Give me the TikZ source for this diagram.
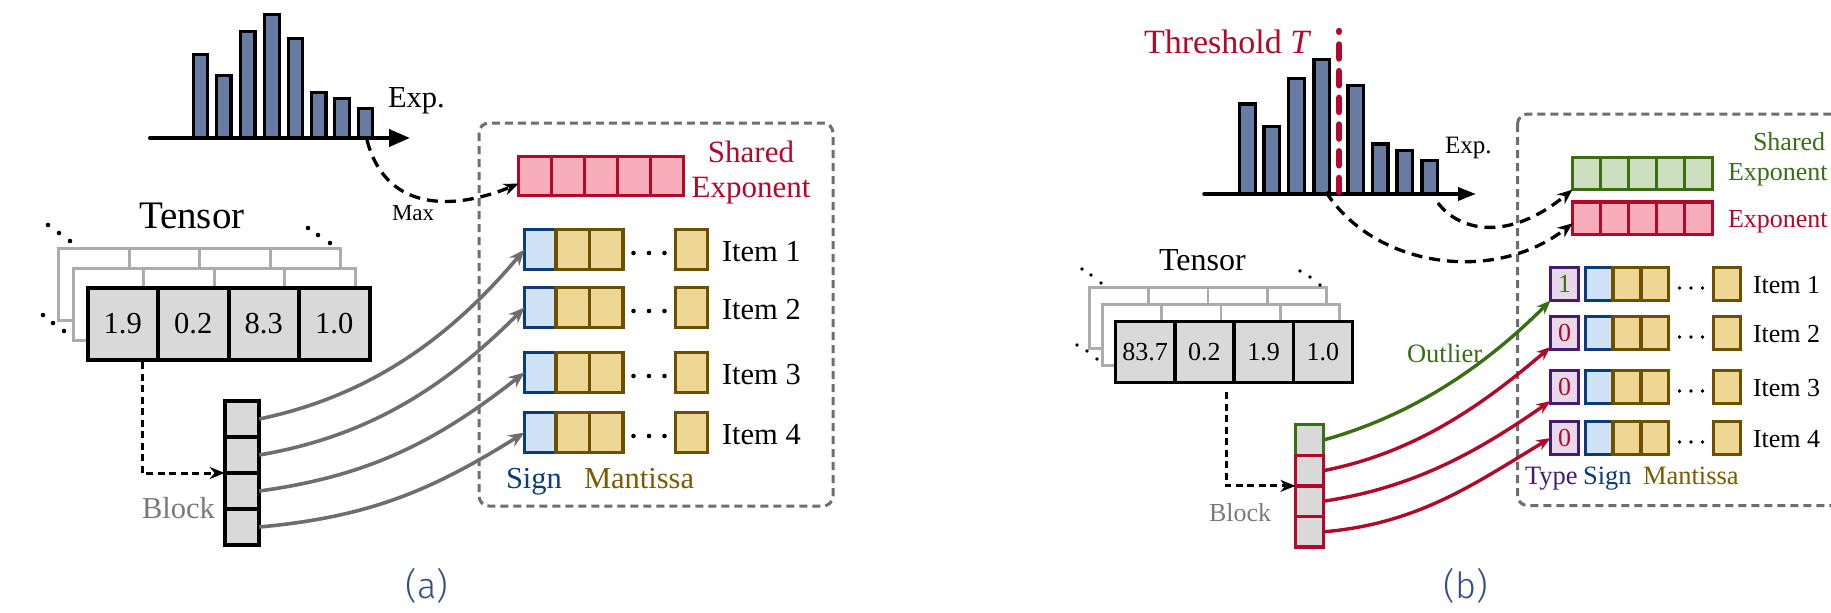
\documentclass[tikz,border=0pt]{standalone}
\usepackage{fontspec}
\setmainfont{Liberation Serif}
\newfontfamily\labfont{Fira Sans Light}
\usetikzlibrary{arrows.meta}
\definecolor{crim}{RGB}{178,8,42}
\definecolor{pinkf}{RGB}{248,174,186}
\definecolor{blues}{RGB}{10,60,125}
\definecolor{bluef}{RGB}{207,226,246}
\definecolor{golds}{RGB}{108,80,0}
\definecolor{goldf}{RGB}{238,214,148}
\definecolor{goldt}{RGB}{122,92,0}
\definecolor{barf}{RGB}{104,123,162}
\definecolor{tgray}{RGB}{217,217,217}
\definecolor{lgray}{RGB}{172,172,172}
\definecolor{greens}{RGB}{56,110,20}
\definecolor{greenf}{RGB}{205,223,192}
\definecolor{purps}{RGB}{72,26,110}
\definecolor{purpf}{RGB}{231,216,234}
\definecolor{dgray}{RGB}{110,110,110}
\definecolor{labblue}{RGB}{52,76,140}
\definecolor{blockt}{RGB}{122,122,122}
\begin{document}
\begin{tikzpicture}[x=1pt,y=-1pt,
  cell/.style={rectangle, inner sep=0pt, outer sep=0pt, anchor=north west},
  txt/.style={inner sep=0pt, outer sep=0pt},
  fA/.style={font=\fontsize{30.5}{36}\selectfont},
  fB/.style={font=\fontsize{26}{30}\selectfont},
  barst/.style={draw=black, fill=barf, line width=3.3pt},
  axisA/.style={draw=black, line width=4pt, line cap=round, -{Triangle[length=21pt,width=17pt]}},
  axisB/.style={draw=black, line width=3.5pt, line cap=round, -{Triangle[length=18pt,width=13pt]}},
  boxst/.style={draw=dgray, line width=3pt, dash pattern=on 8pt off 5pt, rounded corners=10pt},
  tcellA/.style={cell, draw=black, fill=tgray, line width=4pt, minimum width=70.5pt, minimum height=72pt, fA},
  bcellA/.style={cell, draw=lgray, fill=white, line width=3pt, minimum width=70.5pt, minimum height=72pt},
  tcellB/.style={cell, draw=black, fill=tgray, line width=3.5pt, minimum width=59.25pt, minimum height=61pt, fB},
  bcellB/.style={cell, draw=lgray, fill=white, line width=2.8pt, minimum width=59.25pt, minimum height=61pt},
  blkA/.style={cell, draw=black, fill=tgray, line width=4pt, minimum width=34.6pt, minimum height=36pt},
  blkB/.style={cell, fill=tgray, line width=3.3pt, minimum width=28.2pt, minimum height=30.6pt},
  expA/.style={cell, draw=crim, fill=pinkf, line width=3.8pt, minimum width=33pt, minimum height=39pt},
  expRB/.style={cell, draw=crim, fill=pinkf, line width=3.3pt, minimum width=28pt, minimum height=32.2pt},
  expGB/.style={cell, draw=greens, fill=greenf, line width=3.3pt, minimum width=28pt, minimum height=32.2pt},
  signA/.style={cell, draw=blues, fill=bluef, line width=3.8pt, minimum width=31.5pt, minimum height=40pt},
  manA/.style={cell, draw=golds, fill=goldf, line width=3.8pt, minimum width=33.5pt, minimum height=40pt},
  typeB/.style={cell, draw=purps, fill=purpf, line width=3.3pt, minimum width=28pt, minimum height=33pt, fB},
  signB/.style={cell, draw=blues, fill=bluef, line width=3.3pt, minimum width=27.5pt, minimum height=33pt},
  manB/.style={cell, draw=golds, fill=goldf, line width=3.3pt, minimum width=28pt, minimum height=33pt},
  grayarr/.style={draw=dgray, line width=3.6pt, -{Stealth[length=16pt,width=13pt]}},
  garr/.style={draw=greens, line width=3.4pt, -{Stealth[length=14pt,width=11pt]}},
  rarr/.style={draw=crim, line width=3.4pt, -{Stealth[length=14pt,width=11pt]}},
  dashcurve/.style={draw=black, line width=3.3pt, dash pattern=on 11pt off 7pt, -{Stealth[length=15pt,width=12pt]}},
  dasharr/.style={draw=black, line width=3pt, dash pattern=on 7pt off 4.5pt, -{Stealth[length=15pt,width=12pt]}},
  thrline/.style={draw=crim, line width=6.5pt, line cap=round, dash pattern=on 14pt off 12.7pt},
  labst/.style={txt, text=labblue, font=\labfont\fontsize{36}{40}\selectfont}
]
\useasboundingbox (0,0) rectangle (1831,613);
\clip (0,0) rectangle (1831,613);

% ================= (a) =================
\foreach \x/\t in {193.2/54.5, 216.5/75.5, 240.5/31.5, 264.8/14.5, 288.2/38.5, 311.5/92.5, 334.8/98.5, 358.2/108.5}
  \draw[barst] (\x,138) rectangle ({\x+14.5},\t);
\coordinate (axA0) at (150,138);
\coordinate (axA1) at (410,138);
\draw[axisA] (axA0) -- (axA1);
\node[txt, fA, anchor=base west] (expLA) at (388,107) {Exp.};

\draw[boxst] (479,123) rectangle (833,506);

\foreach \i in {0,...,4} \node[expA] (seA\i) at ({518.5+33*\i},156.5) {};
\node[txt, text=crim, font=\fontsize{31}{36}\selectfont, anchor=base] (shA1) at (751,162) {Shared};
\node[txt, text=crim, font=\fontsize{31}{36}\selectfont, anchor=base] (shA2) at (751,197) {Exponent};

\foreach \i/\t in {1/229.5, 2/287.5, 3/352.5, 4/412.5} {
  \node[signA] (sA\i) at (524.5,\t) {};
  \node[manA] (mAa\i) at (556,\t) {};
  \node[manA] (mAb\i) at (589.5,\t) {};
  \node[manA, minimum width=32pt] (mAc\i) at (675.5,\t) {};
  \fill (633.5,{\t+23.5}) circle (2.3pt) (649,{\t+23.5}) circle (2.3pt) (664.5,{\t+23.5}) circle (2.3pt);
  \node[txt, fA, anchor=base west] (itA\i) at (722,{\t+31.5}) {Item \i};
}
\node[txt, fA, text=blues, anchor=base west] (signLA) at (506,488) {Sign};
\node[txt, fA, text=goldt, anchor=base west] (mantLA) at (584,488) {Mantissa};

% tensor
\foreach \L/\dx/\dy in {3/-29/-40, 2/-14.5/-20}
  \foreach \j in {0,...,3}
    \node[bcellA] (tA\L\j) at ({87.5+70.5*\j+\dx},{288+\dy}) {};
\foreach \j/\v in {0/1.9, 1/0.2, 2/8.3, 3/1.0}
  \node[tcellA] (tA1\j) at ({87.5+70.5*\j},288) {\v};
\node[txt, font=\fontsize{39}{44}\selectfont, anchor=base west] (tenA) at (139,228) {Tensor};
\foreach \p in {(48,225),(59,233),(70,241),(308,228),(318,235),(330,243),(43,315),(53,323),(64,331)}
  \fill \p circle (2.3pt);

% block
\foreach \j in {1,...,4} \node[blkA] (bA\j) at (224.7,{401+36*(\j-1)}) {};
\node[txt, fA, text=blockt, anchor=base west] (blockLA) at (142,518) {Block};
\coordinate (tapA) at (142,362);
\draw[dasharr] (tapA) |- (bA2.south west);

\draw[grayarr] (bA1.east) .. controls +(110,-23) and +(-75,89) .. (sA1.west);
\draw[grayarr] (bA2.east) .. controls +(110,-19) and +(-80,80) .. (sA2.west);
\draw[grayarr] (bA3.east) .. controls +(110,-15) and +(-88,69) .. (sA3.west);
\draw[grayarr] (bA4.east) .. controls +(110,-10) and +(-93,58) .. (sA4.west);

\coordinate (maxA0) at (367,140);
\draw[dashcurve] (maxA0) .. controls +(18,70) and +(-68,28) .. (seA0.205);
\node[txt, font=\fontsize{23}{27}\selectfont, anchor=base west] (maxL) at (392,220) {Max};

\node[labst] (labA) at (427,586) {(a)};

% ================= (b) =================
\foreach \x/\t in {1239.7/104.1, 1264.1/126.4, 1288.7/78.7, 1314.1/59.7, 1348.1/85.7, 1372.4/144.1, 1397.1/150.7, 1422.1/160.7}
  \draw[barst] (\x,194) rectangle ({\x+15.6},\t);
\coordinate (axB0) at (1204,194);
\coordinate (axB1) at (1476,194);
\draw[axisB] (axB0) -- (axB1);
\node[txt, font=\fontsize{25}{30}\selectfont, anchor=base west] (expLB) at (1445,153) {Exp.};

\draw[boxst] (1517.5,114) rectangle (1860,505.5);

\foreach \i in {0,...,4} {
  \node[expGB] (geB\i) at ({1572.5+28*\i},157.4) {};
  \node[expRB] (reB\i) at ({1572.5+28*\i},202.1) {};
}
\node[txt, fB, text=greens, anchor=base west] (shB1) at (1753,150) {Shared};
\node[txt, fB, text=greens, anchor=base west] (shB2) at (1728,180) {Exponent};
\node[txt, fB, text=crim, anchor=base west] (exB) at (1728,227) {Exponent};

\coordinate (tailB) at (1438,203);
\coordinate (thrB) at (1326,192);
\draw[dashcurve] (tailB) .. controls +(22,29) and +(-63,52) .. (geB0.south west);
\draw[dashcurve] (thrB) .. controls +(49,76) and +(-78,61) .. (reB0.200);

\coordinate (thrBot) at (1339,192);
\coordinate (thrTop) at (1339,31);
\draw[thrline] (thrBot) -- (thrTop);
\node[txt, text=crim, font=\fontsize{34}{40}\selectfont, anchor=base west] (thrL) at (1144,53) {Threshold \textit{T}};

\foreach \i/\t/\c/\d in {1/267.5/greens/1, 2/316.5/crim/0, 3/370.5/crim/0, 4/421.5/crim/0} {
  \node[typeB, text=\c] (tB\i) at (1550.5,\t) {\d};
  \node[signB] (sB\i) at (1585.5,\t) {};
  \node[manB] (mBa\i) at (1613,\t) {};
  \node[manB, minimum width=27.5pt] (mBb\i) at (1641,\t) {};
  \node[manB, minimum width=27pt] (mBc\i) at (1713.5,\t) {};
  \fill (1679.5,{\t+20.5}) circle (1.9pt) (1691,{\t+20.5}) circle (1.9pt) (1702.5,{\t+20.5}) circle (1.9pt);
  \node[txt, fB, anchor=base west] (itB\i) at (1753,{\t+25.5}) {Item \i};
}
\node[txt, font=\fontsize{26.5}{30}\selectfont, text=purps, anchor=base west] (typeLB) at (1525,484) {Type};
\node[txt, font=\fontsize{26.5}{30}\selectfont, text=blues, anchor=base west] (signLB) at (1583,484) {Sign};
\node[txt, font=\fontsize{26.5}{30}\selectfont, text=goldt, anchor=base west] (mantLB) at (1643,484) {Mantissa};

% tensor (b)
\foreach \L/\dx/\dy in {3/-26/-34, 2/-13/-17}
  \foreach \j in {0,...,3}
    \node[bcellB] (tB\L\j) at ({1115.5+59.25*\j+\dx},{321.5+\dy}) {};
\foreach \j/\v in {0/83.7, 1/0.2, 2/1.9, 3/1.0}
  \node[tcellB] (tBf\j) at ({1115.5+59.25*\j},321.5) {\v};
\node[txt, font=\fontsize{32}{38}\selectfont, anchor=base west] (tenB) at (1159,270) {Tensor};
\foreach \p in {(1082,269),(1091,275),(1101,283),(1300,271),(1310,277),(1320,285),(1077,345),(1087,351),(1097,359)}
  \fill \p circle (1.9pt);

% block (b)
\node[blkB, draw=greens] (bB1) at (1295.4,424.7) {};
\foreach \j in {2,3,4} \node[blkB, draw=crim] (bB\j) at (1295.4,{424.7+30.6*(\j-1)}) {};
\node[txt, fB, text=blockt, anchor=base west] (blockLB) at (1209,521) {Block};
\coordinate (tapB) at (1226,392);
\draw[dasharr] (tapB) |- (bB2.south west);

\draw[garr] (bB1.east) .. controls +(90,-25) and +(-65,65) .. (tB1.south west);
\draw[rarr] (bB2.east) .. controls +(92,-18) and +(-68,58) .. (tB2.225);
\draw[rarr] (bB3.east) .. controls +(92,-14) and +(-72,50) .. (tB3.225);
\draw[rarr] (bB4.east) .. controls +(95,-8) and +(-75,45) .. (tB4.west);
\node[txt, font=\fontsize{26.5}{30}\selectfont, text=greens, anchor=base west] (outL) at (1407,362) {Outlier};

\node[labst] (labB) at (1466,586) {(b)};
\end{tikzpicture}
\end{document}
